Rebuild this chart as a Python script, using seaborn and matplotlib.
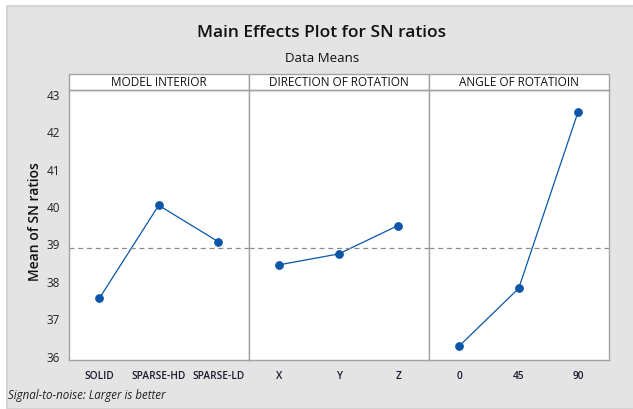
import numpy as np
import pandas as pd
import seaborn as sns
import matplotlib.pyplot as plt
from matplotlib.patches import Rectangle

# Data
factors = ['MODEL INTERIOR', 'DIRECTION OF ROTATION', 'ANGLE OF ROTATIOIN']
interior_levels = ['SOLID', 'SPARSE-HD', 'SPARSE-LD']
interior_sn = [37.53, 40.02, 39.05]
direction_levels = ['X', 'Y', 'Z']
direction_sn = [38.43, 38.72, 39.48]
angle_levels = ['0', '45', '90']
angle_sn = [36.26, 37.80, 42.52]
y_ticks = [36, 37, 38, 39, 40, 41, 42, 43]

sns.set_style('white')
plt.rcParams['font.family'] = ['Open Sans', 'DejaVu Sans']

panels = [
    pd.DataFrame({'level': interior_levels, 'sn': interior_sn}),
    pd.DataFrame({'level': direction_levels, 'sn': direction_sn}),
    pd.DataFrame({'level': angle_levels, 'sn': angle_sn}),
]
grand_mean = np.mean(interior_sn + direction_sn + angle_sn)

W, H = 633, 410
fig = plt.figure(figsize=(W / 100, H / 100), dpi=100)
fig.patch.set_facecolor('white')

# grey background panel with light border
fig.add_artist(Rectangle((7 / W, 0), 1, 1 - 7 / H, transform=fig.transFigure,
                         facecolor='#e4e4e4', edgecolor='#cfcfcf', lw=1.2, zorder=-10))

left, right = 69 / W, 609 / W
bottom, top = 1 - 361 / H, 1 - 90.7 / H
axes = fig.subplots(1, 3, sharey=True, gridspec_kw=dict(wspace=0))
fig.subplots_adjust(left=left, right=right, bottom=bottom, top=top)

line_col = '#0b56a8'
spine_col = '#a3a3a3'
strip_h = 15.7 / (361 - 90.7)

for i, (ax, df, name) in enumerate(zip(axes, panels, factors)):
    ax.set_facecolor('white')
    sns.lineplot(data=df, x='level', y='sn', ax=ax, sort=False, color=line_col,
                 lw=0.9, marker='o', markersize=5.5, markeredgecolor=line_col)
    ax.axhline(grand_mean, color='#8c8c8c', lw=0.9, ls=(0, (4, 3)))
    ax.set_xlim(-0.51, 2.52)
    ax.set_ylim(35.885, 43.11)
    ax.set_xlabel('')
    ax.set_ylabel('')
    for s in ax.spines.values():
        s.set_color(spine_col)
        s.set_linewidth(1.0)
    ax.tick_params(axis='x', length=3, width=0.8, color=spine_col, pad=4,
                   labelsize=7.3, labelcolor='#1a1a2e')
    for lab in ax.get_xticklabels():
        lab.set_fontweight('semibold')
    # strip on top
    ax.add_patch(Rectangle((0, 1), 1, strip_h, transform=ax.transAxes, clip_on=False,
                           facecolor='white', edgecolor=spine_col, lw=1.0))
    ax.text(0.5, 1 + strip_h / 2, name, transform=ax.transAxes, ha='center',
            va='center', fontsize=8.5, fontweight='medium', color='#111111')
    if i > 0:
        ax.tick_params(axis='y', left=False)

axes[0].set_yticks(y_ticks)
axes[0].tick_params(axis='y', length=3, width=0.8, color=spine_col, labelsize=8.5,
                    labelcolor='#222222')
fig.text(35 / W, 1 - 222 / H, 'Mean of SN ratios', rotation=90, ha='center',
         va='center', fontsize=10, fontweight='semibold', color='#111111')

fig.text(322 / W, 1 - 33 / H, 'Main Effects Plot for SN ratios', ha='center',
         va='center', fontsize=12.5, fontweight='semibold', color='#111111')
fig.text(322 / W, 1 - 58 / H, 'Data Means', ha='center', va='center',
         fontsize=9.5, color='#111111')
fig.text(8 / W, 1 - 396 / H, 'Signal-to-noise: Larger is better', ha='left',
         va='center', fontsize=8.3, style='italic', color='#222222')

fig.savefig('out.png', dpi=100, facecolor=fig.get_facecolor())
